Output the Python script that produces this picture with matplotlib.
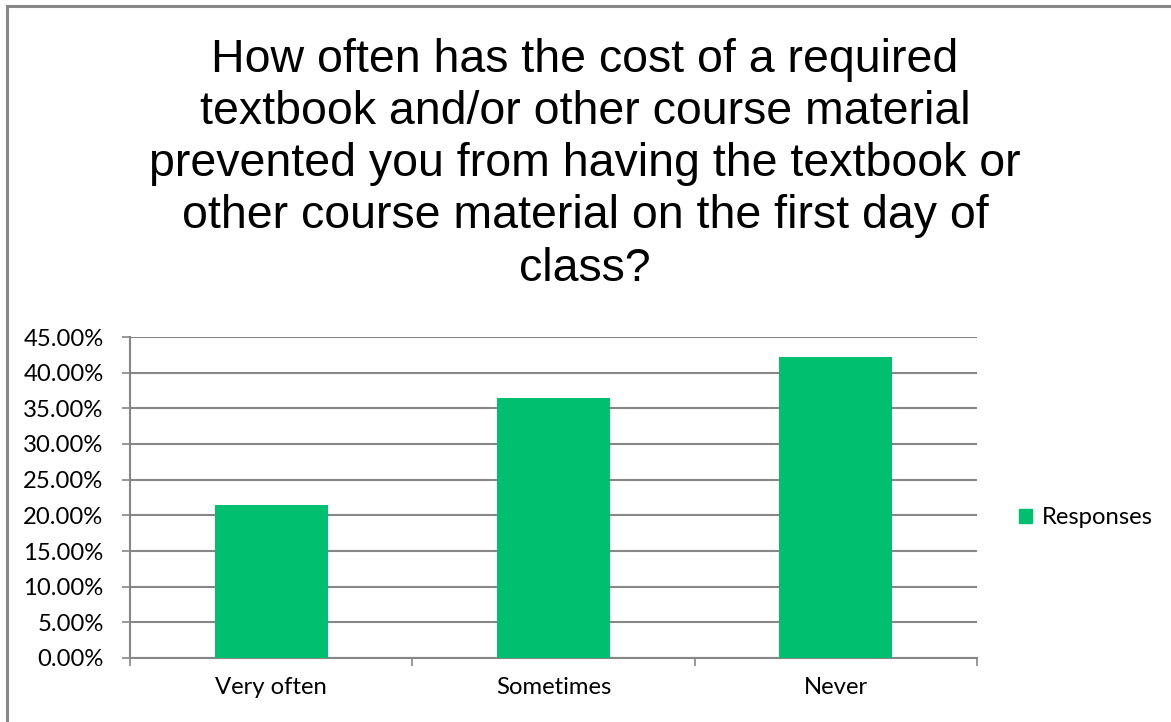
import matplotlib.pyplot as plt
from matplotlib.patches import Patch
from matplotlib.ticker import FuncFormatter, MultipleLocator

categories = ["Very often", "Sometimes", "Never"]
responses = [21.4, 36.4, 42.2]
series_name = "Responses"
title = ("How often has the cost of a required\n"
         "textbook and/or other course material\n"
         "prevented you from having the textbook or\n"
         "other course material on the first day of\n"
         "class?")

W, H = 1171, 722
green = "#00bf6f"
grid = "#868686"
fs = 17.2

fig = plt.figure(figsize=(W / 100, H / 100), dpi=100)
fig.patch.set_facecolor("white")

# outer chart frame (only left and top visible in the crop)
fig.add_artist(plt.Line2D([7 / W, 7 / W], [0, 1 - 6 / H], color="#888888", lw=2.2,
                          transform=fig.transFigure))
fig.add_artist(plt.Line2D([7 / W, 1], [1 - 6 / H, 1 - 6 / H], color="#888888", lw=2.2,
                          transform=fig.transFigure))

fig.text(0.4996, 1 - 38 / H, title, ha="center", va="top", fontsize=33.5,
         family="Liberation Sans", linespacing=1.24)

left, right, top, bottom = 130, 977, 337, 658
ax = fig.add_axes([left / W, 1 - bottom / H, (right - left) / W, (bottom - top) / H])

x = range(len(categories))
ax.bar(x, responses, width=0.4, color=green, zorder=3)

ax.set_xlim(-0.5, len(categories) - 0.5)
ax.set_ylim(0, 45)
ax.yaxis.set_major_locator(MultipleLocator(5))
ax.yaxis.set_major_formatter(FuncFormatter(lambda v, _: f"{v:.2f}%"))
ax.grid(axis="y", color=grid, lw=1.5, zorder=0)
ax.set_axisbelow(True)

ax.set_xticks([i - 0.5 for i in range(len(categories) + 1)], minor=False)
ax.set_xticklabels([])
ax.set_xticks(list(x), minor=True)
ax.set_xticklabels(categories, minor=True)
ax.tick_params(axis="x", which="major", length=6, width=1.2, color=grid, direction="out")
ax.tick_params(axis="x", which="minor", length=0, pad=13.5, labelsize=fs, labelcolor="black")
ax.tick_params(axis="y", length=6, width=1.2, color=grid, pad=13, labelsize=fs)
for lab in ax.get_xticklabels(minor=True) + ax.get_yticklabels():
    lab.set_family("Lato")

for s in ["top", "right"]:
    ax.spines[s].set_visible(False)
ax.spines["left"].set_color(grid)
ax.spines["left"].set_linewidth(1.5)
ax.spines["bottom"].set_color(grid)
ax.spines["bottom"].set_linewidth(1.5)

leg = fig.legend(handles=[Patch(color=green, label=series_name)],
                 loc="center left", bbox_to_anchor=(997 / W, 1 - 518 / H),
                 frameon=False, handlelength=0.58, handleheight=0.58,
                 handletextpad=0.38, prop={"family": "Lato", "size": fs})

fig.savefig("out.png", dpi=100)
